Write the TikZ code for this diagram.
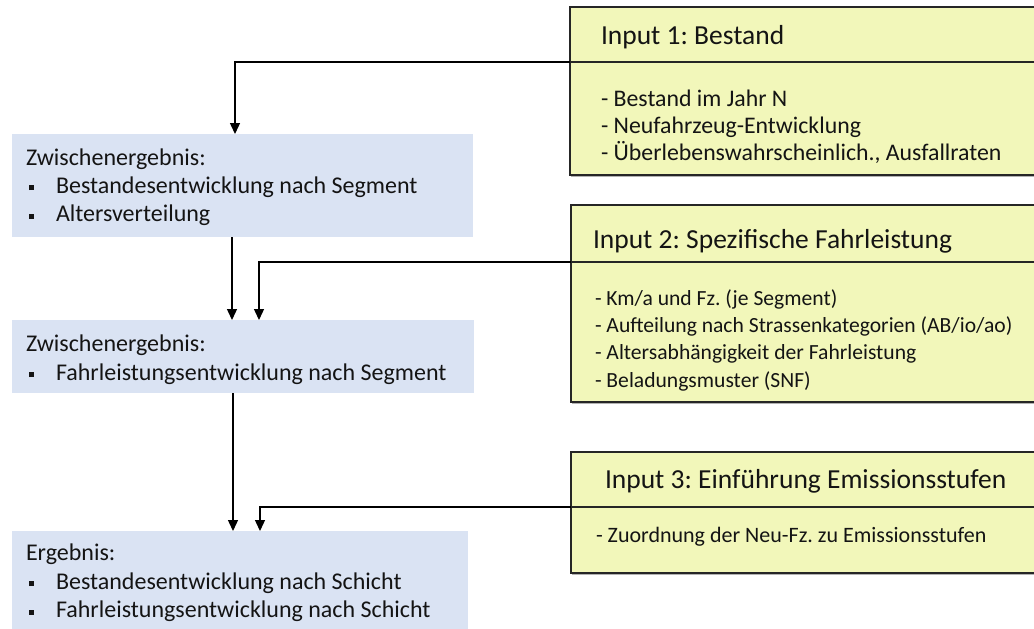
\documentclass[tikz,border=0pt]{standalone}
\usepackage{fontspec}
\setmainfont{Carlito}
\usetikzlibrary{arrows.meta,shadows,calc}
\definecolor{inyellow}{RGB}{242,247,186}
\definecolor{resblue}{RGB}{218,227,243}
\definecolor{txtcol}{RGB}{20,20,20}
\newcommand\mybul{\makebox[27pt][l]{\raisebox{3pt}{\rule{5pt}{5pt}}}}
\begin{document}
\frenchspacing
\begin{tikzpicture}[x=1pt,y=-1pt,
 resbox/.style={draw=none,fill=resblue,anchor=north west,inner sep=0,outer sep=0},
 inbox/.style={draw=black!85,line width=1.2pt,fill=inyellow,anchor=north west,inner sep=0,outer sep=0,
   drop shadow={shadow xshift=1pt,shadow yshift=-1.5pt,fill=black!50,opacity=0.6}},
 divline/.style={draw=black!85,line width=1.2pt},
 txt/.style={anchor=base west,inner sep=0,outer sep=0,text=txtcol,font=\fontsize{24}{28}\selectfont},
 txtA/.style={txt,font=\fontsize{23.8}{28}\selectfont},
 txtB/.style={txt,font=\fontsize{21.6}{28}\selectfont},
 txtC/.style={txt,font=\fontsize{22}{28}\selectfont},
 ttl/.style={anchor=base west,inner sep=0,outer sep=0,text=txtcol,font=\fontsize{27.5}{33}\selectfont},
 arr/.style={line width=1.4pt,-{Triangle[width=10pt,length=11pt]}}
]
\useasboundingbox[fill=white] (0,0) rectangle (1034,629);

% result boxes
\node[resbox,minimum width=461pt,minimum height=103pt] (box1) at (12,134) {};
\node[resbox,minimum width=462pt,minimum height=73pt] (box2) at (12,320) {};
\node[resbox,minimum width=456pt,minimum height=100pt] (box3) at (12,531) {};

% input boxes
\node[inbox,minimum width=470pt,minimum height=168pt] (in1) at (570,7) {};
\node[inbox,minimum width=470pt,minimum height=197pt] (in2) at (571,205) {};
\node[inbox,minimum width=470pt,minimum height=121pt] (in3) at (571,452) {};

\coordinate (c1) at ([yshift=-55pt]in1.north west);
\coordinate (c2) at ([yshift=-57pt]in2.north west);
\coordinate (c3) at ([yshift=-55pt]in3.north west);
\draw[divline] (c1) -- ([yshift=-55pt]in1.north east);
\draw[divline] (c2) -- ([yshift=-57pt]in2.north east);
\draw[divline] (c3) -- ([yshift=-55pt]in3.north east);

% input texts
\node[ttl] (t1) at (601,45) {Input 1: Bestand};
\node[txtA] (t1a) at (601,106) {- Bestand im Jahr N};
\node[txtA] (t1b) at (601,133.4) {- Neufahrzeug-Entwicklung};
\node[txtA] (t1c) at (601,160.8) {- Überlebenswahrscheinlich., Ausfallraten};

\node[ttl] (t2) at (593,248) {Input 2: Spezifische Fahrleistung};
\node[txtB] (t2a) at (595,305) {- Km/a und Fz. (je Segment)};
\node[txtB] (t2b) at (595,332.4) {- Aufteilung nach Strassenkategorien (AB/io/ao)};
\node[txtB] (t2c) at (595,359.8) {- Altersabhängigkeit der Fahrleistung};
\node[txtB] (t2d) at (595,387.2) {- Beladungsmuster (SNF)};

\node[ttl] (t3) at (605,488) {Input 3: Einführung Emissionsstufen};
\node[txtC] (t3a) at (596,542) {- Zuordnung der Neu-Fz. zu Emissionsstufen};

% result texts
\node[txt] (r1) at (26,165) {Zwischenergebnis:};
\node[txt] (r1a) at (29,193) {\mybul Bestandesentwicklung nach Segment};
\node[txt] (r1b) at (29,221.5) {\mybul Altersverteilung};

\node[txt] (r2) at (26,351) {Zwischenergebnis:};
\node[txt] (r2a) at (29,380) {\mybul Fahrleistungsentwicklung nach Segment};

\node[txt] (r3) at (26,560) {Ergebnis:};
\node[txt] (r3a) at (29,589) {\mybul Bestandesentwicklung nach Schicht};
\node[txt] (r3b) at (29,617.5) {\mybul Fahrleistungsentwicklung nach Schicht};

% connectors
\draw[arr] (c1) -| ([xshift=223pt]box1.north west);
\draw[arr] ([xshift=220pt]box1.south west) -- ([xshift=220pt]box2.north west);
\draw[arr] (c2) -| ([xshift=247pt]box2.north west);
\draw[arr] ([xshift=221pt]box2.south west) -- ([xshift=221pt]box3.north west);
\draw[arr] (c3) -| ([xshift=248pt]box3.north west);
\end{tikzpicture}
\end{document}
